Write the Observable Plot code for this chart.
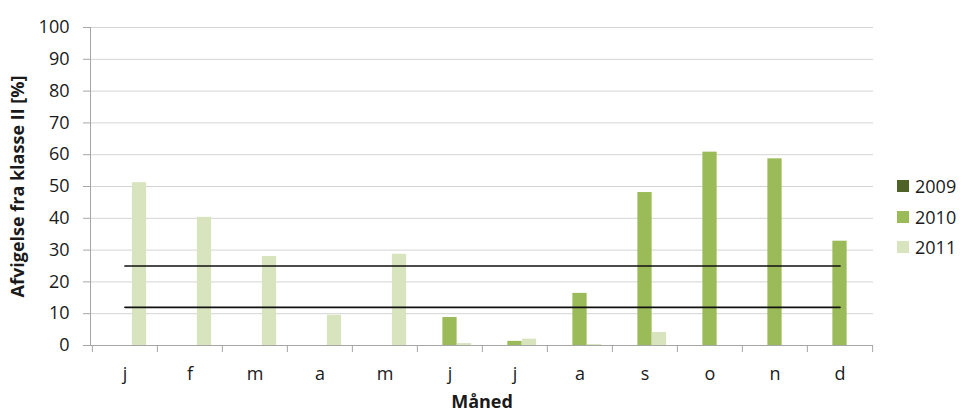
<!DOCTYPE html>
<html><head><meta charset="utf-8">
<script src="https://cdn.jsdelivr.net/npm/d3@7"></script>
<script src="https://cdn.jsdelivr.net/npm/@observablehq/plot@0.6"></script>
<style>
body{margin:0;background:#fff;}
#wrap{position:relative;width:962px;height:412px;font-family:"Open Sans",sans-serif;}
#legend{position:absolute;left:897px;top:171px;}
.item{display:flex;align-items:center;height:30.5px;font-size:18px;color:#1a1a1a;}
.sw{width:12px;height:12px;margin-right:6px;flex:none;}
g[aria-label="x-axis label"] text, g[aria-label="y-axis label"] text{font-weight:bold;}
</style>
</head><body>
<div id="wrap"><div id="legend"></div></div>
<script>
const months = ["j","f","m","a","m","j","j","a","s","o","n","d"];
const years = ["2009","2010","2011"];
const v2009 = [null,null,null,null,null,null,null,null,null,null,null,null];
const v2010 = [null,null,null,null,null,8.8,1.3,16.4,48.1,60.8,58.7,32.8];
const v2011 = [51.2,40.3,28.0,9.5,28.7,0.6,2.0,0.3,4.1,null,null,null];
const limits = [25, 12];
const yTicks = [0,10,20,30,40,50,60,70,80,90,100];
const colors = ["#4f6228","#9bbb59","#d7e4bd"];

const series = [v2009, v2010, v2011];
const W = 962, H = 412, mL = 90, mR = 89, mT = 27, mB = 67;
const bw = (W - mL - mR) / months.length;
const barW = 14.5;
const pad = (bw - years.length * barW) / 2;
const idx = d3.range(months.length);
const axisGray = "#a6a6a6";

const barMarks = years.map((yr, k) =>
  Plot.barY(
    idx.map(i => ({i, v: series[k][i]})).filter(d => d.v != null),
    {x: "i", y: "v", fill: colors[k],
     insetLeft: pad + k * barW, insetRight: pad + (years.length - 1 - k) * barW}
  )
);

const lineData = limits.flatMap(v => [{i: idx[0], v}, {i: idx[idx.length - 1], v}]);

const chart = Plot.plot({
  width: W, height: H,
  marginLeft: mL, marginRight: mR, marginTop: mT, marginBottom: mB,
  style: {fontFamily: "Open Sans", fontSize: "18px", color: "#1a1a1a", background: "#fff"},
  x: {type: "band", domain: idx, padding: 0},
  y: {domain: [0, 100]},
  marks: [
    Plot.gridY({ticks: yTicks, stroke: "#d4d4d4", strokeOpacity: 1}),
    Plot.frame({anchor: "left", stroke: axisGray}),
    ...barMarks,
    Plot.ruleY([0], {stroke: axisGray}),
    Plot.lineY(lineData, {x: "i", y: "v", z: "v", stroke: "#111", strokeWidth: 1.7}),
    Plot.axisY({ticks: yTicks, tickSize: 7, tickPadding: 14, stroke: axisGray, fill: "#1a1a1a", fontSize: 18,
      label: "Afvigelse fra klasse II [%]", labelAnchor: "center", labelArrow: "none", labelOffset: 79}),
    Plot.axisX({ticks: idx, tickSize: 0, tickPadding: 22, tickFormat: i => months[i], fill: "#1a1a1a", fontSize: 18,
      label: "Måned", labelAnchor: "center", labelOffset: 62}),
    Plot.axisX({ticks: idx, tickSize: 7, tickFormat: () => "", dx: -bw / 2, stroke: axisGray, label: null}),
    Plot.axisX({ticks: [idx[idx.length - 1]], tickSize: 7, tickFormat: () => "", dx: bw / 2, stroke: axisGray, label: null})
  ]
});
document.getElementById("wrap").prepend(chart);

const legend = document.getElementById("legend");
years.forEach((yr, k) => {
  const it = document.createElement("div");
  it.className = "item";
  it.innerHTML = `<span class="sw" style="background:${colors[k]}"></span><span>${yr}</span>`;
  legend.appendChild(it);
});
</script>
</body></html>
